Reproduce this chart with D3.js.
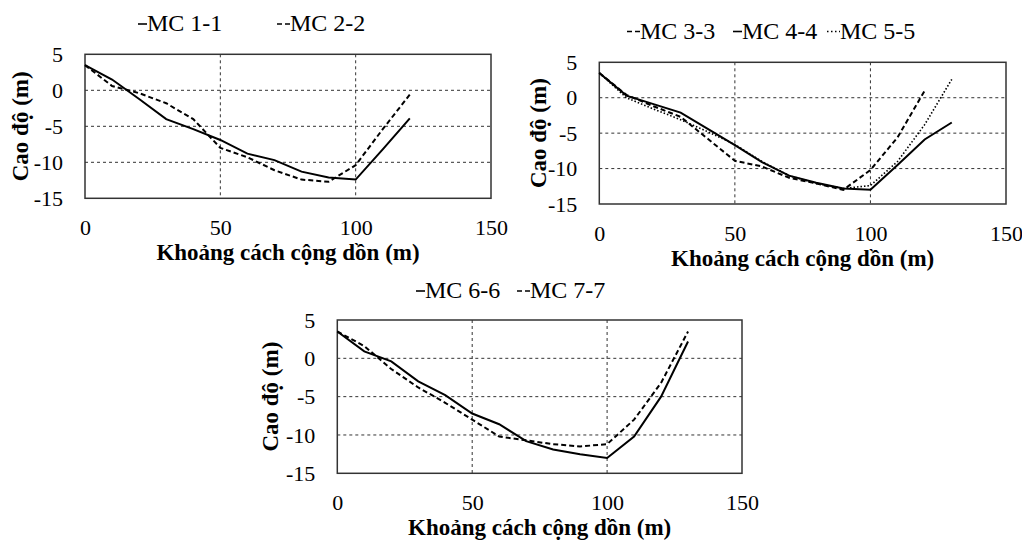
<!DOCTYPE html>
<html>
<head>
<meta charset="utf-8">
<script src="https://cdn.jsdelivr.net/npm/d3@7"></script>
<style>
  body { margin: 0; background: #fff; }
  text { font-family: "Liberation Serif", "Times New Roman", serif; fill: #000; }
  .title { font-weight: bold; font-size: 23px; }
  .legend text { font-size: 24px; }
</style>
</head>
<body>
<div id="viz"></div>
<script>
// distance along section (m)
var dist = [0, 10, 20, 30, 40, 50, 60, 70, 80, 90, 100, 110, 120, 130];

// elevation (m) for each cross section
var mc11 = [3.5, 1.5, -1.2, -4.0, -5.4, -6.9, -8.8, -9.7, -11.3, -12.1, -12.4, -8.2, -3.9];
var mc22 = [3.5, 0.6, -0.4, -1.8, -4.0, -8.0, -9.3, -11.1, -12.4, -12.7, -10.4, -5.4, -0.6];
var mc33 = [3.5, 0.4, -1.2, -2.7, -5.8, -8.9, -9.7, -11.3, -12.1, -13.0, -10.2, -5.6, 1.0];
var mc44 = [3.5, 0.3, -0.9, -2.1, -4.4, -6.7, -9.1, -11.0, -12.0, -12.8, -13.0, -9.5, -5.9, -3.5];
var mc55 = [3.5, 0.0, -1.6, -3.1, -4.8, -6.6, -9.0, -11.0, -12.1, -12.8, -12.4, -9.0, -3.8, 2.6];
var mc66 = [3.5, 0.9, -0.4, -3.0, -4.8, -7.2, -8.6, -10.8, -11.9, -12.5, -13.0, -10.2, -5.0, 2.2];
var mc77 = [3.5, 1.6, -1.4, -3.8, -5.8, -8.0, -10.2, -10.7, -11.2, -11.5, -11.2, -8.0, -3.2, 3.5];

var xTicks = [0, 50, 100, 150];
var yTicks = [5, 0, -5, -10, -15];

var xTitle = "Khoảng cách cộng dồn (m)";
var yTitle = "Cao độ (m)";

var dashes = { solid: null, dashed: "5,3", dotted: "1.5,2" };

var panels = [
    { left: 85, right: 491, top: 54.3, bottom: 198.3, yTitleX: 20, legendY: 31,
      series: [
        { name: "MC 1-1", values: mc11, style: "solid", lx: 138 },
        { name: "MC 2-2", values: mc22, style: "dashed", lx: 277 }
      ] },
    { left: 599.3, right: 1006, top: 62.3, bottom: 204, yTitleX: 538, legendY: 38.5,
      series: [
        { name: "MC 3-3", values: mc33, style: "dashed", lx: 627 },
        { name: "MC 4-4", values: mc44, style: "solid", lx: 733 },
        { name: "MC 5-5", values: mc55, style: "dotted", lx: 827 }
      ] },
    { left: 337.3, right: 742, top: 320, bottom: 473.3, yTitleX: 270, legendY: 298,
      series: [
        { name: "MC 6-6", values: mc66, style: "solid", lx: 416 },
        { name: "MC 7-7", values: mc77, style: "dashed", lx: 517 }
      ] }
];

var svg = d3.select("#viz")
    .append("svg")
    .attr("width", 1022)
    .attr("height", 540);

function plain(d) { return String(d); }

panels.forEach(function(p) {
    var x = d3.scaleLinear().domain([0, 150]).range([p.left, p.right]);
    var y = d3.scaleLinear().domain([-15, 5]).range([p.bottom, p.top]);

    var g = svg.append("g");

    // grid
    g.selectAll(".hgrid")
        .data([0, -5, -10])
        .enter()
        .append("line")
        .attr("x1", p.left).attr("x2", p.right)
        .attr("y1", function(d) { return y(d); })
        .attr("y2", function(d) { return y(d); })
        .attr("stroke", "#333")
        .attr("stroke-width", 1)
        .attr("stroke-dasharray", "3,3");

    g.selectAll(".vgrid")
        .data([50, 100])
        .enter()
        .append("line")
        .attr("y1", p.top).attr("y2", p.bottom)
        .attr("x1", function(d) { return x(d); })
        .attr("x2", function(d) { return x(d); })
        .attr("stroke", "#333")
        .attr("stroke-width", 1)
        .attr("stroke-dasharray", "3,3");

    // frame
    g.append("rect")
        .attr("x", p.left).attr("y", p.top)
        .attr("width", p.right - p.left)
        .attr("height", p.bottom - p.top)
        .attr("fill", "none")
        .attr("stroke", "#333")
        .attr("stroke-width", 1.5);

    // axes (labels only, Excel style)
    var xAxis = g.append("g")
        .attr("transform", "translate(0," + (p.bottom + 37) + ")")
        .call(d3.axisBottom(x).tickValues(xTicks).tickFormat(plain).tickSize(0).tickPadding(0));
    xAxis.select(".domain").remove();
    xAxis.selectAll("text")
        .attr("y", 0)
        .attr("dy", 0)
        .style("font-size", "22px")
        .style("font-family", "Liberation Serif");

    var yAxis = g.append("g")
        .attr("transform", "translate(" + (p.left - 22) + ",0)")
        .call(d3.axisLeft(y).tickValues(yTicks).tickFormat(plain).tickSize(0).tickPadding(0));
    yAxis.select(".domain").remove();
    yAxis.selectAll("text")
        .style("font-size", "22px")
        .style("font-family", "Liberation Serif");

    // titles
    g.append("text")
        .attr("class", "title")
        .attr("x", (p.left + p.right) / 2)
        .attr("y", p.bottom + 62)
        .attr("text-anchor", "middle")
        .text(xTitle);

    g.append("text")
        .attr("class", "title")
        .attr("transform", "translate(" + p.yTitleX + "," + ((p.top + p.bottom) / 2) + ") rotate(-90)")
        .attr("dy", "0.35em")
        .attr("text-anchor", "middle")
        .text(yTitle);

    // series
    var line = d3.line()
        .x(function(d, i) { return x(dist[i]); })
        .y(function(d) { return y(d); });

    g.selectAll(".series")
        .data(p.series)
        .enter()
        .append("path")
        .attr("d", function(s) { return line(s.values); })
        .attr("fill", "none")
        .attr("stroke", "#000")
        .attr("stroke-width", function(s) { return s.style === "dotted" ? 1.6 : 2; })
        .attr("stroke-dasharray", function(s) { return dashes[s.style]; });

    // legend
    var leg = g.append("g").attr("class", "legend");
    var item = leg.selectAll("g")
        .data(p.series)
        .enter()
        .append("g")
        .attr("transform", function(s) { return "translate(" + s.lx + "," + p.legendY + ")"; });

    item.append("line")
        .attr("x1", 0)
        .attr("x2", function(s) { return s.style === "solid" ? 9 : 13; })
        .attr("y1", -7).attr("y2", -7)
        .attr("stroke", "#000")
        .attr("stroke-width", 1.6)
        .attr("stroke-dasharray", function(s) { return s.style === "dashed" ? "5,3" : (s.style === "dotted" ? "1.5,2.5" : null); });

    item.append("text")
        .attr("x", function(s) { return s.style === "solid" ? 9 : 13; })
        .attr("y", 0)
        .text(function(s) { return s.name; });
});
</script>
</body>
</html>
